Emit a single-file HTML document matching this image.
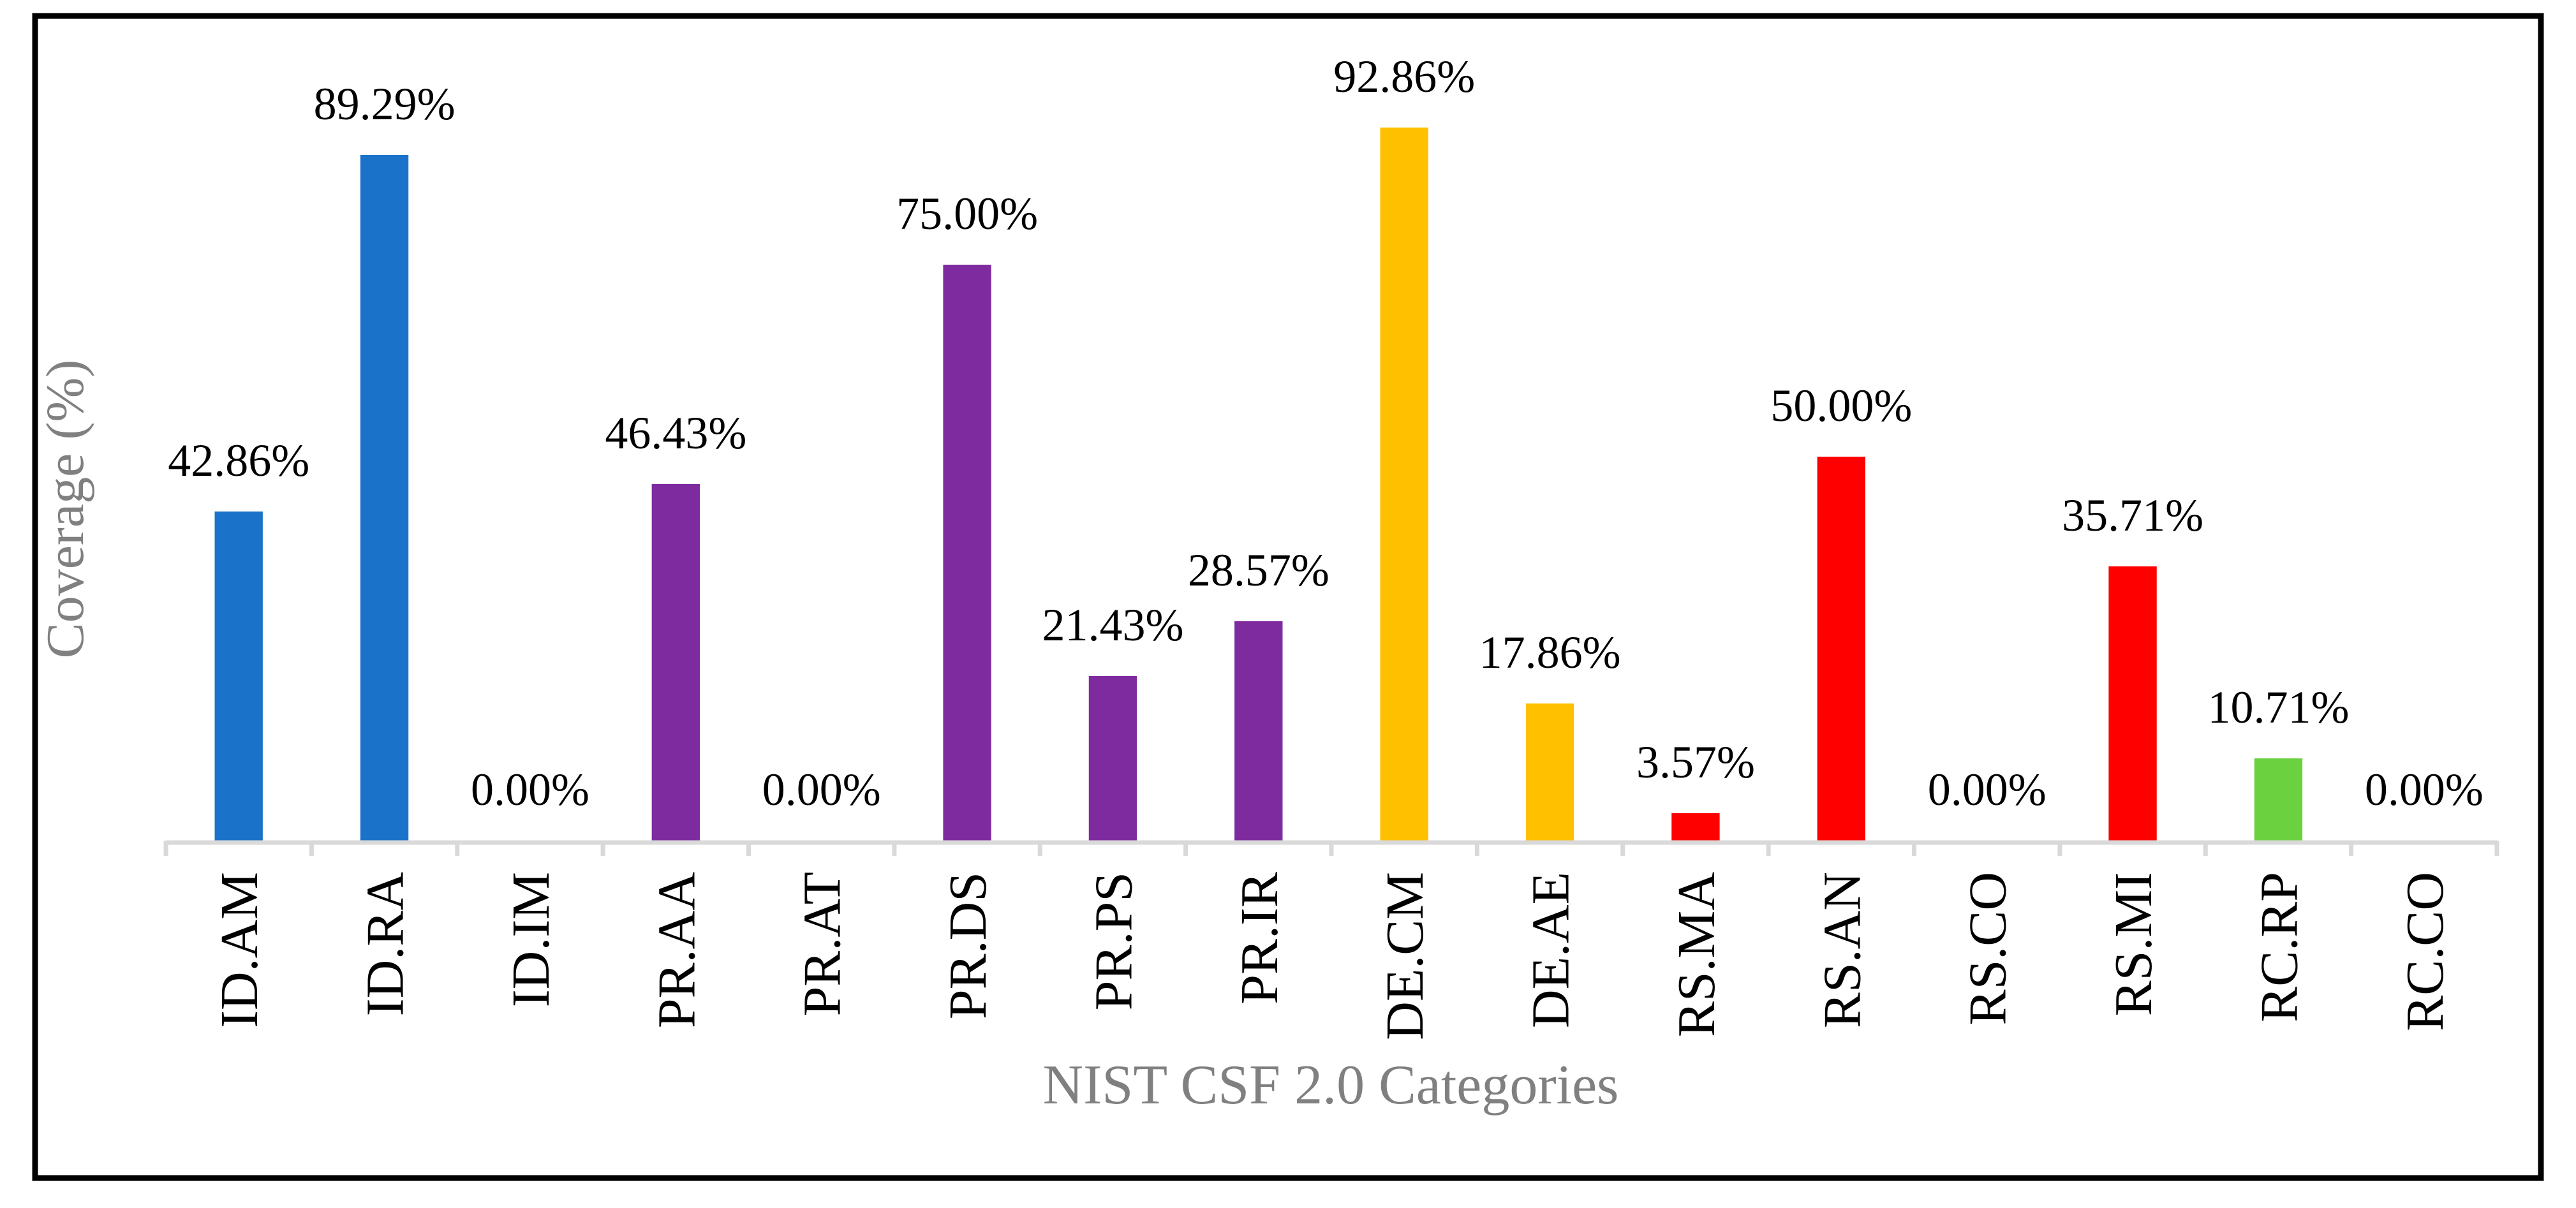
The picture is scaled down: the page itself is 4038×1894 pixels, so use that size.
<!DOCTYPE html>
<html><head><meta charset="utf-8"><style>
html,body{margin:0;padding:0;background:#fff;}
svg{display:block;}
text{font-family:"Liberation Serif",serif;}
</style></head><body>
<svg id="chart" width="4038" height="1894" viewBox="0 0 4038 1894" xmlns="http://www.w3.org/2000/svg">
<rect x="55" y="25" width="3928" height="1822" fill="#fff" stroke="#000" stroke-width="9"/>
<g id="bars"></g>
<g id="axis"></g>
<text transform="translate(130,798) rotate(-90)" text-anchor="middle" font-size="84" fill="#808080">Coverage (%)</text>
<text x="2086" y="1730" text-anchor="middle" font-size="88" fill="#808080">NIST CSF 2.0 Categories</text>
</svg>
<script>
const categories = ["ID.AM","ID.RA","ID.IM","PR.AA","PR.AT","PR.DS","PR.PS","PR.IR","DE.CM","DE.AE","RS.MA","RS.AN","RS.CO","RS.MI","RC.RP","RC.CO"];
const values = [42.86,89.29,0,46.43,0,75.00,21.43,28.57,92.86,17.86,3.57,50.00,0,35.71,10.71,0];
const groups = ["ID","ID","ID","PR","PR","PR","PR","PR","DE","DE","RS","RS","RS","RS","RC","RC"];
const groupColors = {ID:"#1a73c9",PR:"#7f2ba0",DE:"#ffc000",RS:"#ff0000",RC:"#6cd13f"};

const NS="http://www.w3.org/2000/svg";
const x0=260,x1=3914,yBase=1318,pxPer100=1204;
const band=(x1-x0)/categories.length;
const xc=i=>x0+band*(i+0.5);
const y=v=>yBase-v/100*pxPer100;
const barsG=document.getElementById('bars');
const axisG=document.getElementById('axis');
function mk(tag,attrs,parent){const e=document.createElementNS(NS,tag);for(const k in attrs)e.setAttribute(k,attrs[k]);parent.appendChild(e);return e;}
const bw=band*0.33;
categories.forEach((c,i)=>{
  const v=values[i];
  const r=mk('rect',{x:xc(i)-bw/2,y:y(v),width:bw,height:yBase-y(v),fill:groupColors[groups[i]]},barsG);
  
  
  const t=mk('text',{x:xc(i),y:y(v)-56,'text-anchor':'middle','font-size':'72',fill:'#000'},barsG);
  t.textContent=v.toFixed(2)+'%';
  
  
  const tl=mk('text',{transform:`translate(${xc(i)+29},1367) rotate(-90)`,'text-anchor':'end','font-size':'84',fill:'#000'},axisG);
  tl.textContent=c;
  
  
});
const ax=mk('line',{x1:x0,y1:yBase+3,x2:x1,y2:yBase+3,stroke:'#d9d9d9','stroke-width':'7'},axisG);


for(let i=0;i<=categories.length;i++){
  const tk=mk('line',{x1:x0+band*i,y1:yBase,x2:x0+band*i,y2:yBase+24,stroke:'#d9d9d9','stroke-width':'7'},axisG);
  
  
}
</script>
</body></html>
